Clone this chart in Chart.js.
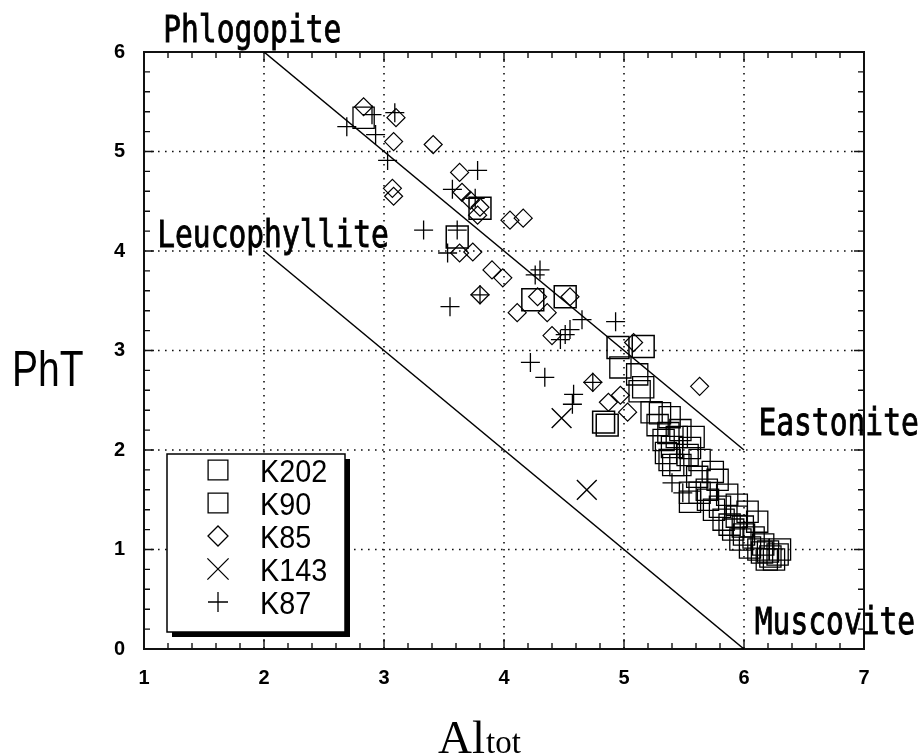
<!DOCTYPE html>
<html>
<head>
<meta charset="utf-8">
<script src="https://cdn.jsdelivr.net/npm/chart.js@4.4.1/dist/chart.umd.min.js"></script>
<style>
  html, body { margin: 0; padding: 0; background: #fff; }
  #wrap { width: 921px; height: 756px; }
</style>
</head>
<body>
<div id="wrap"><canvas id="chart" width="921" height="756"></canvas></div>
<script>
// Altot vs PhT plot for the mica samples

const xTicks = [1, 2, 3, 4, 5, 6, 7];
const yTicks = [0, 1, 2, 3, 4, 5, 6];

// sample analyses
const k202X = [2.83, 4.97, 5.11, 5.16, 5.13, 5.23, 5.30, 5.38, 5.28, 5.37, 5.44, 5.58, 5.40, 5.55, 5.53,
    5.38, 5.63, 5.41, 5.47, 5.61, 5.78, 5.74, 5.55, 5.63, 5.55, 5.69, 5.86, 5.80, 5.94, 5.83,
    5.94, 6.03, 5.91, 5.99, 6.11, 5.97, 6.08, 6.05, 6.16, 6.15, 6.22, 6.28, 6.30, 6.19,
    5.33, 5.47, 5.35, 6.20, 6.25, 6.12, 5.70, 5.75, 5.88, 6.00];
const k202Y = [5.34, 2.83, 2.76, 2.63, 2.59, 2.38, 2.37, 2.33, 2.25, 2.17, 2.13, 2.13, 2.03, 2.02, 1.95,
    1.90, 1.90, 1.85, 1.85, 1.73, 1.70, 1.78, 1.57, 1.57, 1.48, 1.60, 1.55, 1.43, 1.45, 1.30,
    1.33, 1.38, 1.20, 1.23, 1.28, 1.10, 1.12, 1.02, 1.05, 0.97, 0.93, 0.95, 1.00, 0.90,
    2.10, 2.20, 1.97, 0.98, 0.90, 1.00, 1.50, 1.40, 1.25, 1.15];

const k90X = [3.61, 3.80, 4.24, 4.51, 4.95, 5.16, 4.86, 4.83];
const k90Y = [4.14, 4.43, 3.51, 3.54, 3.03, 3.04, 2.25, 2.28];

const k85X = [2.83, 3.10, 3.08, 3.41, 3.07, 3.08, 3.63, 3.65, 3.72, 3.80, 3.78, 4.05, 4.16, 3.63, 3.74,
    3.90, 3.99, 3.80, 4.28, 4.55, 4.11, 4.36, 4.40, 5.08, 4.74, 4.87, 4.97, 5.03, 5.63];
const k85Y = [5.45, 5.34, 5.10, 5.07, 4.63, 4.55, 4.79, 4.59, 4.51, 4.44, 4.36, 4.31, 4.33, 3.98, 3.99,
    3.81, 3.73, 3.56, 3.54, 3.54, 3.38, 3.38, 3.15, 3.08, 2.68, 2.48, 2.55, 2.38, 2.64];

const k143X = [4.48, 4.69];
const k143Y = [2.32, 1.60];

const k87X = [2.69, 2.90, 2.93, 3.09, 3.03, 3.33, 3.78, 3.57, 3.76, 3.61, 3.53, 3.80, 3.55, 4.26, 4.30,
    4.65, 4.93, 4.51, 4.55, 4.47, 4.22, 4.34, 4.74, 4.58, 4.57, 5.40, 5.49];
const k87Y = [5.25, 5.37, 5.17, 5.39, 4.91, 4.21, 4.81, 4.62, 4.53, 4.21, 3.98, 3.56, 3.44, 3.76, 3.81,
    3.31, 3.29, 3.16, 3.21, 3.11, 2.88, 2.73, 2.68, 2.56, 2.46, 1.67, 1.57];

// end-member joins
const upperLineX = [2, 6];
const upperLineY = [6, 2];
const lowerLineX = [2, 6];
const lowerLineY = [4, 0];

const endMembers = ['Phlogopite', 'Leucophyllite', 'Eastonite', 'Muscovite'];

const pts = (xs, ys) => xs.map((x, i) => ({ x, y: ys[i] }));

const monoFont = "'DejaVu Sans Mono', 'Liberation Mono', monospace";
const sansFont = "'Liberation Sans', Arial, sans-serif";
const serifFont = "'Liberation Serif', 'Times New Roman', serif";

// draw text squeezed horizontally (the original uses a narrow font)
function squeezedText(ctx, text, x, y, font, sx, heavy) {
    ctx.save();
    ctx.translate(x, y);
    ctx.scale(sx, 1);
    ctx.font = font;
    ctx.fillText(text, 0, 0);
    if (heavy) {
        ctx.lineWidth = heavy;
        ctx.strokeStyle = ctx.fillStyle;
        ctx.strokeText(text, 0, 0);
    }
    ctx.restore();
}

function markerShape(ctx, style, r, x, y) {
    const h = Chart.helpers;
    if (h && h.drawPoint) {
        h.drawPoint(ctx, { pointStyle: style, radius: r, rotation: 0, borderWidth: ctx.lineWidth }, x, y);
        return;
    }
    ctx.beginPath();
    if (style === 'rect') {
        const s = r * Math.SQRT1_2;
        ctx.rect(x - s, y - s, 2 * s, 2 * s);
    } else if (style === 'rectRot') {
        ctx.moveTo(x, y - r); ctx.lineTo(x + r, y); ctx.lineTo(x, y + r); ctx.lineTo(x - r, y); ctx.closePath();
    } else if (style === 'cross') {
        ctx.moveTo(x - r, y); ctx.lineTo(x + r, y); ctx.moveTo(x, y - r); ctx.lineTo(x, y + r);
    } else {
        const s = r * Math.SQRT1_2;
        ctx.moveTo(x - s, y - s); ctx.lineTo(x + s, y + s); ctx.moveTo(x + s, y - s); ctx.lineTo(x - s, y + s);
    }
    ctx.stroke();
}

// dotted grid, inward ticks and frame
const framePlugin = {
    id: 'frame',
    beforeDatasetsDraw(chart) {
        const { ctx, chartArea: a, scales } = chart;
        const xs = scales.x, ys = scales.y;
        ctx.save();
        ctx.strokeStyle = '#111';
        ctx.lineWidth = 1.6;
        ctx.setLineDash([1.6, 5.4]);
        xTicks.slice(1, -1).forEach(v => {
            const px = xs.getPixelForValue(v);
            ctx.beginPath(); ctx.moveTo(px, a.top); ctx.lineTo(px, a.bottom); ctx.stroke();
        });
        yTicks.slice(1, -1).forEach(v => {
            const py = ys.getPixelForValue(v);
            ctx.beginPath(); ctx.moveTo(a.left, py); ctx.lineTo(a.right, py); ctx.stroke();
        });
        ctx.setLineDash([]);
        ctx.lineWidth = 1.4;
        for (let i = 0; i <= 30; i++) {
            const px = xs.getPixelForValue(1 + i * 0.2);
            const len = i % 5 === 0 ? 10 : 6;
            ctx.beginPath();
            ctx.moveTo(px, a.bottom); ctx.lineTo(px, a.bottom - len);
            ctx.moveTo(px, a.top); ctx.lineTo(px, a.top + len);
            ctx.stroke();
        }
        for (let i = 0; i <= 30; i++) {
            const py = ys.getPixelForValue(i * 0.2);
            const len = i % 5 === 0 ? 10 : 6;
            ctx.beginPath();
            ctx.moveTo(a.left, py); ctx.lineTo(a.left + len, py);
            ctx.moveTo(a.right, py); ctx.lineTo(a.right - len, py);
            ctx.stroke();
        }
        ctx.lineWidth = 2;
        ctx.strokeRect(a.left, a.top, a.right - a.left, a.bottom - a.top);
        ctx.restore();
    },
    afterDraw(chart) {
        const { ctx, scales } = chart;
        const xs = scales.x, ys = scales.y;
        ctx.save();
        ctx.fillStyle = '#000';
        ctx.textBaseline = 'alphabetic';
        ctx.textAlign = 'left';

        // end-member names
        const font = '37px ' + monoFont;
        const at = [[1.16, 6.10], [1.11, 4.04], [6.12, 2.15], [6.09, 0.15]];
        endMembers.forEach((name, i) => {
            squeezedText(ctx, name, xs.getPixelForValue(at[i][0]), ys.getPixelForValue(at[i][1]), font, 0.8, 0.9);
        });

        // axis titles
        squeezedText(ctx, 'PhT', 12, 386, '50px ' + sansFont, 0.78);
        ctx.font = '47px ' + serifFont;
        ctx.fillText('Al', 438, 753);
        ctx.font = '33px ' + serifFont;
        ctx.fillText('tot', 486, 753);

        // legend box with heavy shadow
        const lx = 167, ly = 454, lw = 178, lh = 178;
        ctx.fillStyle = '#000';
        ctx.fillRect(lx + 5, ly + 5, lw, lh);
        ctx.fillStyle = '#fff';
        ctx.fillRect(lx, ly, lw, lh);
        ctx.strokeStyle = '#000';
        ctx.lineWidth = 1.5;
        ctx.strokeRect(lx, ly, lw, lh);

        const sizes = { rect: 14, rectRot: 10, crossRot: 15, cross: 10 };
        const samples = chart.data.datasets.filter(d => !d.showLine);
        samples.forEach((d, i) => {
            const cy = ly + 16 + i * 33;
            ctx.strokeStyle = '#000';
            ctx.fillStyle = 'rgba(0,0,0,0)';
            ctx.lineWidth = 1.3;
            markerShape(ctx, d.pointStyle, sizes[d.pointStyle], 218, cy);
            ctx.fillStyle = '#000';
            squeezedText(ctx, d.label, 260, cy + 12, '32px ' + sansFont, 0.9);
        });
        ctx.restore();
    }
};

function sampleSet(label, xs, ys, style, r, bw) {
    return {
        label,
        data: pts(xs, ys),
        pointStyle: style,
        pointRadius: r,
        pointHoverRadius: r,
        pointBorderWidth: bw,
        borderColor: '#000',
        backgroundColor: 'rgba(0,0,0,0)',
        showLine: false
    };
}

function joinLine(xs, ys) {
    return {
        label: '',
        data: pts(xs, ys),
        showLine: true,
        borderColor: '#000',
        borderWidth: 1.5,
        pointRadius: 0,
        pointHoverRadius: 0,
        fill: false
    };
}

const tickFont = { family: "'Liberation Sans Narrow', 'Liberation Sans', Arial", size: 20, weight: 'bold' };

new Chart(document.getElementById('chart'), {
    type: 'scatter',
    data: {
        datasets: [
            sampleSet('K202', k202X, k202Y, 'rect', 15, 1.3),
            sampleSet('K90', k90X, k90Y, 'rect', 15.5, 1.5),
            sampleSet('K85', k85X, k85Y, 'rectRot', 9, 1.2),
            sampleSet('K143', k143X, k143Y, 'crossRot', 14, 1.4),
            sampleSet('K87', k87X, k87Y, 'cross', 9.5, 1.3),
            joinLine(upperLineX, upperLineY),
            joinLine(lowerLineX, lowerLineY)
        ]
    },
    options: {
        responsive: false,
        animation: false,
        events: [],
        layout: { padding: { left: 0, top: 52, right: 57, bottom: 57 } },
        plugins: {
            legend: { display: false },
            tooltip: { enabled: false }
        },
        scales: {
            x: {
                type: 'linear',
                min: 1,
                max: 7,
                afterBuildTicks: s => { s.ticks = xTicks.map(v => ({ value: v })); },
                afterFit: s => { s.height = 50; },
                grid: { display: false, drawTicks: false, tickLength: 0 },
                border: { display: false },
                ticks: { color: '#000', font: tickFont, padding: 17, maxRotation: 0 }
            },
            y: {
                type: 'linear',
                min: 0,
                max: 6,
                afterBuildTicks: s => { s.ticks = yTicks.map(v => ({ value: v })); },
                afterFit: s => { s.width = 144; },
                grid: { display: false, drawTicks: false, tickLength: 0 },
                border: { display: false },
                ticks: { color: '#000', font: tickFont, padding: 19 }
            }
        }
    },
    plugins: [framePlugin]
});
</script>
</body>
</html>
